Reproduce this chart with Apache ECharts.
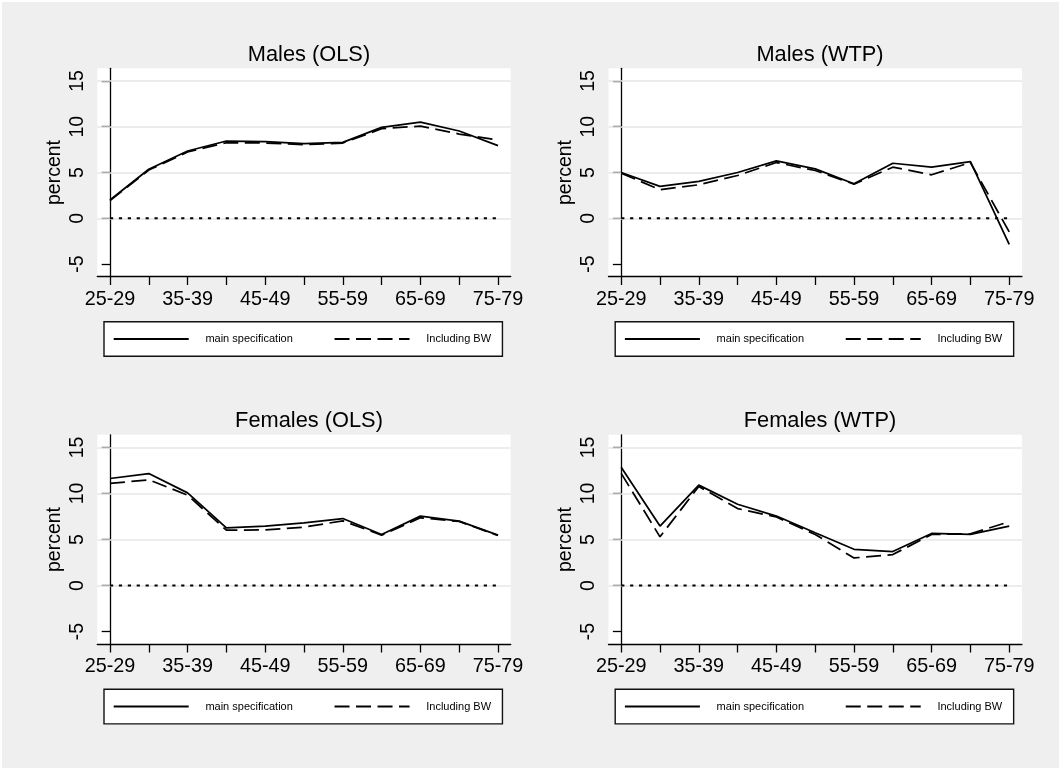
<!DOCTYPE html>
<html>
<head>
<meta charset="utf-8">
<script src="https://cdn.jsdelivr.net/npm/echarts@6/dist/echarts.min.js"></script>
<style>
  html, body { margin: 0; padding: 0; background: #fff; }
  #chart { width: 1061px; height: 770px; }
</style>
</head>
<body>
<div id="chart"></div>
<script>
// Age groups on the horizontal axis
const ageGroups = ['25-29', '30-34', '35-39', '40-44', '45-49', '50-54',
                   '55-59', '60-64', '65-69', '70-74', '75-79'];

// Panel headings
const panelTitles = ['Males (OLS)', 'Males (WTP)', 'Females (OLS)', 'Females (WTP)'];

// Legend entries
const seriesNames = ['main specification', 'Including BW'];

// Estimates in percent, one value per age group
const malesOlsMain   = [2.0, 5.35, 7.35, 8.44, 8.36, 8.15, 8.29, 9.93, 10.5, 9.53, 7.93];
const malesOlsBW     = [1.93, 5.27, 7.24, 8.25, 8.22, 8.04, 8.22, 9.78, 10.07, 9.2, 8.55];
const malesWtpMain   = [5.0, 3.48, 4.02, 5.0, 6.27, 5.4, 3.77, 6.01, 5.58, 6.2, -2.86];
const malesWtpBW     = [4.93, 3.12, 3.66, 4.67, 6.09, 5.22, 3.73, 5.58, 4.75, 6.09, -1.49];
const femalesOlsMain = [11.63, 12.17, 10.07, 6.27, 6.45, 6.81, 7.28, 5.54, 7.54, 6.99, 5.47];
const femalesOlsBW   = [11.09, 11.49, 9.82, 6.01, 6.05, 6.34, 7.03, 5.47, 7.36, 6.96, 5.43];
const femalesWtpMain = [12.85, 6.46, 10.91, 8.83, 7.55, 5.73, 3.94, 3.69, 5.66, 5.55, 6.46];
const femalesWtpBW   = [12.19, 5.29, 10.77, 8.36, 7.45, 5.55, 2.99, 3.36, 5.55, 5.62, 6.93];

// Reference line at zero
const zeroLine = [0, 0, 0, 0, 0, 0, 0, 0, 0, 0, 0];

// Axis ticks
const yTickValues = [-5, 0, 5, 10, 15];
const yGridValues = [0, 5, 10, 15];
const xTickIndex = [0, 1, 2, 3, 4, 5, 6, 7, 8, 9, 10];
const xLabelIndex = [0, 2, 4, 6, 8, 10];

const panelData = [
  [malesOlsMain, malesOlsBW],
  [malesWtpMain, malesWtpBW],
  [femalesOlsMain, femalesOlsBW],
  [femalesWtpMain, femalesWtpBW]
];

// Layout of the 2x2 panels
const panelLayout = [
  { left: 97.3,  top: 68.3,  width: 413.4, height: 208.4, titleX: 304, titleY: 39,  legendX: 104,   legendY: 321.7 },
  { left: 608.5, top: 68.3,  width: 413.4, height: 208.4, titleX: 815, titleY: 39,  legendX: 615.2, legendY: 321.7 },
  { left: 97.3,  top: 434.8, width: 413.4, height: 209.4, titleX: 304, titleY: 405, legendX: 104,   legendY: 689.3 },
  { left: 608.5, top: 434.8, width: 413.4, height: 209.4, titleX: 815, titleY: 405, legendX: 615.2, legendY: 689.3 }
];

const FONT = "'Liberation Sans', Arial, Helvetica, sans-serif";
const INK = '#000';

const grids = [], xAxes = [], yAxes = [], titles = [], legends = [], series = [];

panelLayout.forEach((p, k) => {
  grids.push({
    left: p.left, top: p.top, width: p.width, height: p.height,
    containLabel: false, outerBoundsMode: 'none',
    show: true, backgroundColor: '#fff', borderWidth: 0
  });

  xAxes.push({
    type: 'value', gridIndex: k, min: -0.327, max: 10.327,
    axisLine: { show: true, onZero: false, lineStyle: { color: INK, width: 1.3 } },
    axisTick: { show: true, inside: false, length: 8.3, customValues: xTickIndex,
                lineStyle: { color: INK, width: 1.3 } },
    axisLabel: { show: true, customValues: xLabelIndex, margin: 12.5,
                 fontFamily: FONT, fontSize: 19.8, color: INK,
                 formatter: v => ageGroups[Math.round(v)] },
    splitLine: { show: false }
  });

  yAxes.push({
    type: 'value', gridIndex: k, min: -6.38, max: 16.38,
    name: 'percent', nameLocation: 'middle', nameGap: 33,
    nameTextStyle: { fontFamily: FONT, fontSize: 19.5, color: INK },
    axisLine: { show: true, lineStyle: { color: INK, width: 1.3 } },
    axisTick: { show: true, inside: false, length: 8.3, customValues: yTickValues,
                lineStyle: { color: INK, width: 1.3 } },
    axisLabel: { show: true, customValues: yTickValues, rotate: 90, margin: 10,
                 fontFamily: FONT, fontSize: 19.5, color: INK },
    splitLine: { show: false }
  });

  titles.push({
    text: panelTitles[k], left: p.titleX, top: p.titleY, textAlign: 'center',
    textStyle: { fontFamily: FONT, fontSize: 21.8, fontWeight: 'normal', color: INK }
  });

  legends.push({
    data: seriesNames, left: p.legendX, top: p.legendY, orient: 'horizontal',
    padding: [11.7, 11.4, 11.7, 8.7], itemGap: 40.7, itemWidth: 75, itemHeight: 14,
    backgroundColor: '#fff', borderColor: '#111', borderWidth: 1.4, borderRadius: 0,
    selectedMode: false,
    itemStyle: { color: 'rgba(0,0,0,0)', borderWidth: 0, opacity: 0 },
    textStyle: { fontFamily: FONT, fontSize: 11, color: INK, padding: [0, 0, 0, 11.7] }
  });

  // zero reference line, with the horizontal grid lines attached
  series.push({
    name: 'zero', type: 'line', xAxisIndex: k, yAxisIndex: k, z: 2,
    data: zeroLine.map((v, i) => [i, v]),
    symbol: 'none', silent: true,
    lineStyle: { color: INK, width: 2, type: [3.2, 5.7] },
    markLine: {
      silent: true, symbol: ['none', 'none'], z: 1, animation: false,
      label: { show: false },
      lineStyle: { color: '#e6e6e6', width: 1.6, type: 'solid' },
      data: yGridValues.map(v => ({ yAxis: v }))
    }
  });

  panelData[k].forEach((vals, s) => {
    series.push({
      name: seriesNames[s], type: 'line', xAxisIndex: k, yAxisIndex: k, z: 3,
      data: vals.map((v, i) => [i, v]),
      symbol: 'none', showSymbol: false,
      lineStyle: { color: INK, width: 1.75, type: s === 0 ? 'solid' : [15, 6.5] },
      itemStyle: { color: INK }
    });
  });
});

const chart = echarts.init(document.getElementById('chart'), null, { renderer: 'canvas' });
chart.setOption({
  animation: false,
  backgroundColor: '#fff',
  graphic: [{
    type: 'rect', silent: true, z: -100,
    shape: { x: 2, y: 2, width: 1057, height: 766 },
    style: { fill: '#efefef' }
  }],
  title: titles,
  legend: legends,
  grid: grids,
  xAxis: xAxes,
  yAxis: yAxes,
  series: series
});
</script>
</body>
</html>
